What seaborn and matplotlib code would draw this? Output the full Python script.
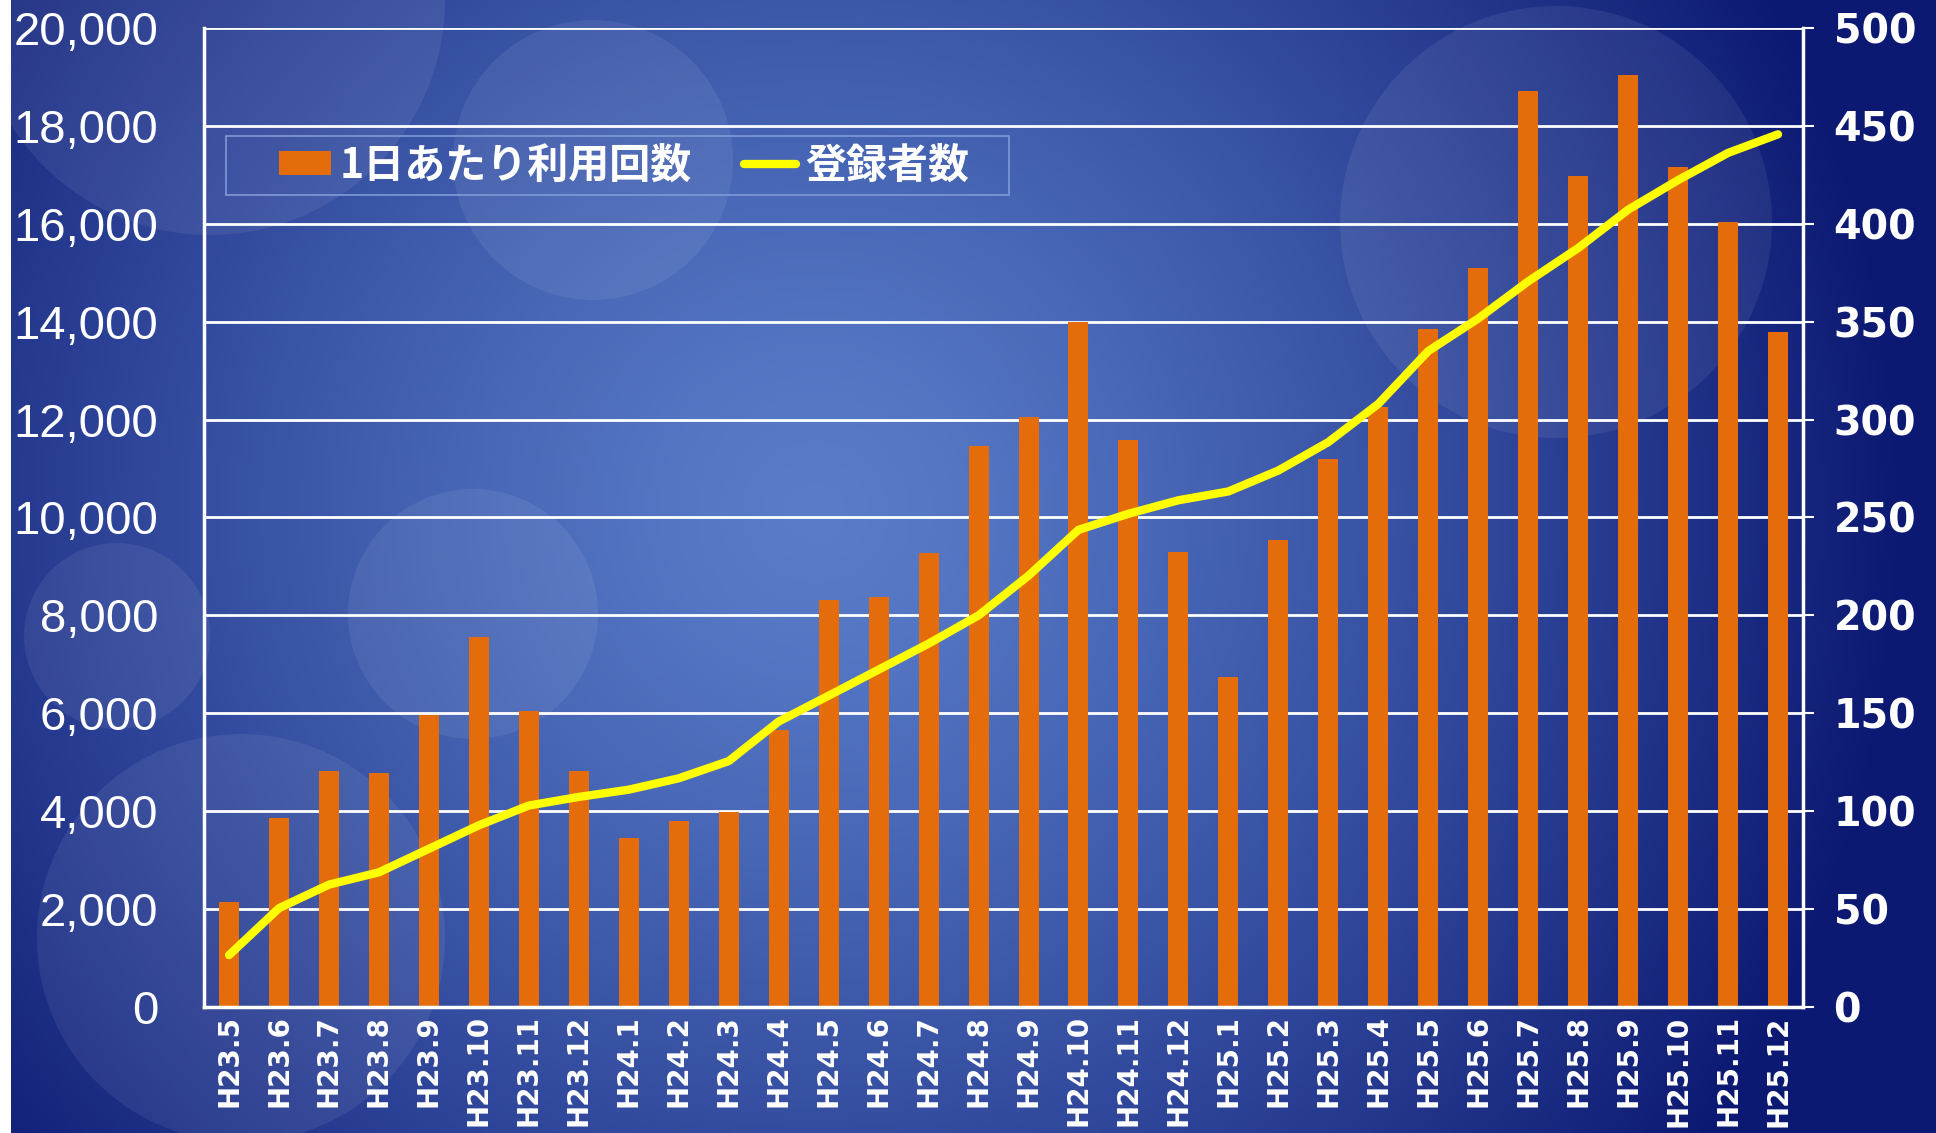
import numpy as np
import pandas as pd
import matplotlib
matplotlib.use('Agg')
import matplotlib.pyplot as plt
from matplotlib.patches import Patch, Circle, Rectangle
from matplotlib.lines import Line2D
import seaborn as sns

# ── datos ────────────────────────────────────────────────────────────────────
meses = ['H23.5', 'H23.6', 'H23.7', 'H23.8', 'H23.9', 'H23.10', 'H23.11', 'H23.12',
         'H24.1', 'H24.2', 'H24.3', 'H24.4', 'H24.5', 'H24.6', 'H24.7', 'H24.8',
         'H24.9', 'H24.10', 'H24.11', 'H24.12', 'H25.1', 'H25.2', 'H25.3', 'H25.4',
         'H25.5', 'H25.6', 'H25.7', 'H25.8', 'H25.9', 'H25.10', 'H25.11', 'H25.12']
uso_diario = [2150, 3870, 4830, 4780, 5960, 7550, 6040, 4830,
              3460, 3790, 3990, 5660, 8310, 8380, 9270, 11460,
              12050, 13990, 11590, 9290, 6740, 9550, 11190, 12250,
              13860, 15100, 18710, 16970, 19040, 17170, 16040, 13790]
registrados = [26.5, 50.5, 62.5, 68.8, 80.8, 92.8, 102.9, 107.3,
               111.0, 116.8, 125.6, 145.8, 159.0, 172.3, 185.6, 200.0,
               220.3, 243.7, 251.9, 258.8, 263.3, 274.0, 288.5, 308.0,
               335.0, 351.6, 370.6, 387.6, 407.2, 422.3, 436.2, 445.7]
ticks_izq = [0, 2000, 4000, 6000, 8000, 10000, 12000, 14000, 16000, 18000, 20000]
ticks_der = [0, 50, 100, 150, 200, 250, 300, 350, 400, 450, 500]
etiqueta_barras = '1日あたり利用回数'
etiqueta_linea = '登録者数'

NARANJA = '#E46C0A'
AMARILLO = '#FFFF00'

df = pd.DataFrame({'mes': meses, 'uso': uso_diario, 'reg': registrados})
df['pos'] = np.arange(len(df))

sns.set_style('white')
plt.rcParams['font.family'] = ['Noto Sans CJK JP', 'DejaVu Sans']

W, H = 1936, 1133
fig = plt.figure(figsize=(W / 100, H / 100), dpi=100)

# ── fondo degradado azul con círculos (coordenadas en píxeles) ───────────────
bg = fig.add_axes([0, 0, 1, 1], zorder=-5)
h, w = 230, 390
yy, xx = np.mgrid[0:h, 0:w]
fx = xx / w
fy = yy / h
d = np.sqrt(((fx - 0.42) * 1.7) ** 2 + ((fy - 0.45) * 1.0) ** 2)
t = np.clip(d / 0.95, 0, 1) ** 1.3
c_centro = np.array([0.35, 0.49, 0.79])
c_borde = np.array([0.05, 0.10, 0.45])
img = c_centro * (1 - t[..., None]) + c_borde * t[..., None]
bg.imshow(img, extent=[0, W, H, 0], aspect='auto')
circulos = [(1556, 222, 216), (241, 938, 204), (473, 614, 125),
            (593, 160, 140), (117, 636, 93), (210, 0, 235)]
for cx, cy, r in circulos:
    bg.add_patch(Circle((cx, cy), r, color='white', alpha=0.07, lw=0))
bg.add_patch(Rectangle((0, 0), 11, H, color='white', lw=0))
bg.set_xlim(0, W); bg.set_ylim(H, 0)
bg.axis('off')

# ── barras ───────────────────────────────────────────────────────────────────
ax = fig.add_axes([0.1054, 0.1112, 0.8259, 0.8641])
ax.set_facecolor('none')
sns.barplot(data=df, x='mes', y='uso', color=NARANJA, saturation=1, width=0.4,
            errorbar=None, ax=ax, zorder=2, linewidth=0, edgecolor='none')
ax.set_xlim(-0.5, len(meses) - 0.5)
ax.set_ylim(0, 20000)
ax.set_yticks(ticks_izq)
ax.set_yticklabels([f'{v:,}' for v in ticks_izq], family='Liberation Sans',
                   fontsize=34, color='white')
ax.set_xticks(df['pos'])
ax.set_xticklabels(meses, rotation=90, family='DejaVu Sans', fontweight='bold',
                   fontsize=20, color='white')
ax.tick_params(axis='y', length=0, pad=33)
ax.tick_params(axis='x', length=0, pad=6)
ax.set_xlabel(''); ax.set_ylabel('')
ax.grid(axis='y', color='white', linewidth=2, zorder=0)
ax.set_axisbelow(True)
for s in ['left', 'bottom']:
    ax.spines[s].set_color('white'); ax.spines[s].set_linewidth(2.5)
ax.spines['top'].set_visible(False)
ax.spines['right'].set_visible(False)

# ── línea de registrados ─────────────────────────────────────────────────────
ax2 = ax.twinx()
sns.lineplot(data=df, x='pos', y='reg', color=AMARILLO, linewidth=6, ax=ax2,
             solid_capstyle='round', solid_joinstyle='round')
ax2.set_ylim(0, 500)
ax2.set_yticks(ticks_der)
ax2.set_yticklabels([str(v) for v in ticks_der], family='DejaVu Sans',
                    fontweight='bold', fontsize=28.5, color='white')
ax2.tick_params(axis='y', length=8, width=1.5, color='white', pad=14, direction='out')
ax2.set_xlabel(''); ax2.set_ylabel('')
ax2.spines['right'].set_color('white'); ax2.spines['right'].set_linewidth(2.5)
for s in ['top', 'left', 'bottom']:
    ax2.spines[s].set_visible(False)
ax2.set_xlim(-0.5, len(meses) - 0.5)

# ── leyenda (marco dibujado aparte) ──────────────────────────────────────────
ax2.add_patch(Rectangle((0.01376, 0.8294), 0.4897, 0.0603, transform=ax2.transAxes,
                        facecolor='none', edgecolor='#7f9ad8', lw=1.2, zorder=4))
manejadores = [Patch(facecolor=NARANJA, edgecolor='none', label=etiqueta_barras),
               Line2D([0], [0], color=AMARILLO, lw=6, label=etiqueta_linea)]
leg = ax2.legend(handles=manejadores, loc='center left', bbox_to_anchor=(0.0469, 0.8596),
                 ncol=2, frameon=False, handlelength=1.27, handleheight=0.5,
                 handletextpad=0.22, columnspacing=1.27, borderpad=0, borderaxespad=0,
                 prop={'family': ['Noto Sans CJK JP', 'DejaVu Sans'], 'weight': 'bold', 'size': 29.5})
for txt in leg.get_texts():
    txt.set_color('white')

fig.savefig('out.png', dpi=100)
